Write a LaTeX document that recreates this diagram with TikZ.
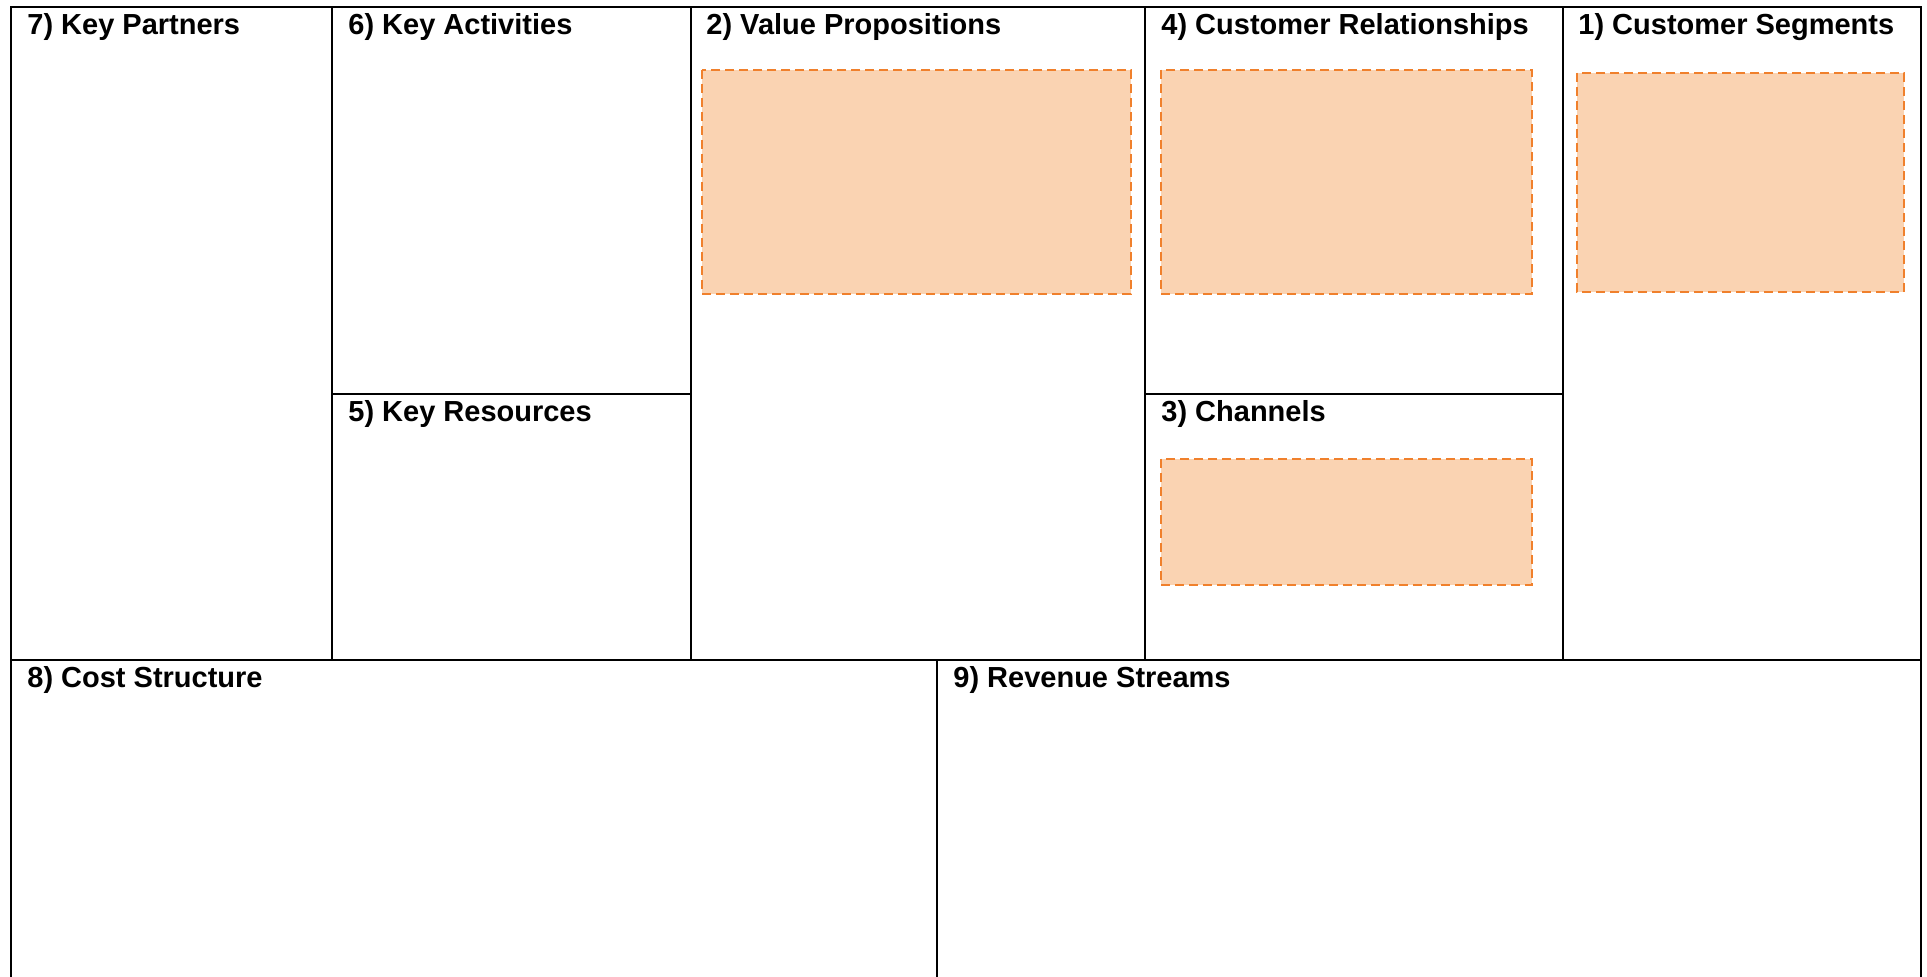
\documentclass[tikz,border=0pt]{standalone}
\usepackage{fontspec}
\setmainfont{Liberation Sans}
\usepackage{tikz}
\usetikzlibrary{
    positioning,
    calc
}
\definecolor{ideaedge}{RGB}{240,128,44}
\definecolor{ideafill}{RGB}{250,211,178}
\tikzset{
    grid/.style={line width=1pt, black},
    idea/.style={fill=ideafill, draw=ideaedge, line width=1pt, dash pattern=on 4.5pt off 2.5pt},
    title/.style={anchor=base west, inner sep=0pt, font=\fontsize{14.5}{17}\selectfont\bfseries}
}

\begin{document}
\begin{tikzpicture}[x=0.5pt, y=-0.5pt]
        \useasboundingbox (0, 0) rectangle (1927, 977);
        \fill[white] (0, 0) rectangle (1927, 977);
        \begin{scope}
            \fill[idea] (702, 70) rectangle (1131, 294);
            \fill[idea] (1161, 70) rectangle (1532, 294);
            \fill[idea] (1577, 73) rectangle (1904, 292);
            \fill[idea] (1161, 459) rectangle (1532, 585);
            \draw[idea] (702, 70) rectangle (1131, 294);
            \draw[idea] (1161, 70) rectangle (1532, 294);
            \draw[idea] (1577, 73) rectangle (1904, 292);
            \draw[idea] (1161, 459) rectangle (1532, 585);
        \end{scope}
        \begin{scope}
            \draw[grid] (11, 990) -- (11, 7) -- (1921, 7) -- (1921, 990);
            \draw[grid] (11, 660) -- (1921, 660);
            \foreach \x in {332, 691, 1145, 1563}
                \draw[grid] (\x, 7) -- (\x, 660);
            \draw[grid] (332, 394) -- (691, 394);
            \draw[grid] (1145, 394) -- (1563, 394);
            \draw[grid] (937, 660) -- (937, 990);
        \end{scope}
        \node[title] (kp) at (27, 35) {7) Key Partners};
        \node[title] (ka) at (348, 35) {6) Key Activities};
        \node[title] (vp) at (706, 35) {2) Value Propositions};
        \node[title] (cr) at (1161, 35) {4) Customer Relationships};
        \node[title] (cs) at (1578, 35) {1) Customer Segments};
        \node[title] (kr) at (348, 422) {5) Key Resources};
        \node[title] (ch) at (1161, 422) {3) Channels};
        \node[title] (cost) at (27, 688) {8) Cost Structure};
        \node[title] (rev) at (953, 688) {9) Revenue Streams};
    \end{tikzpicture}
\end{document}
